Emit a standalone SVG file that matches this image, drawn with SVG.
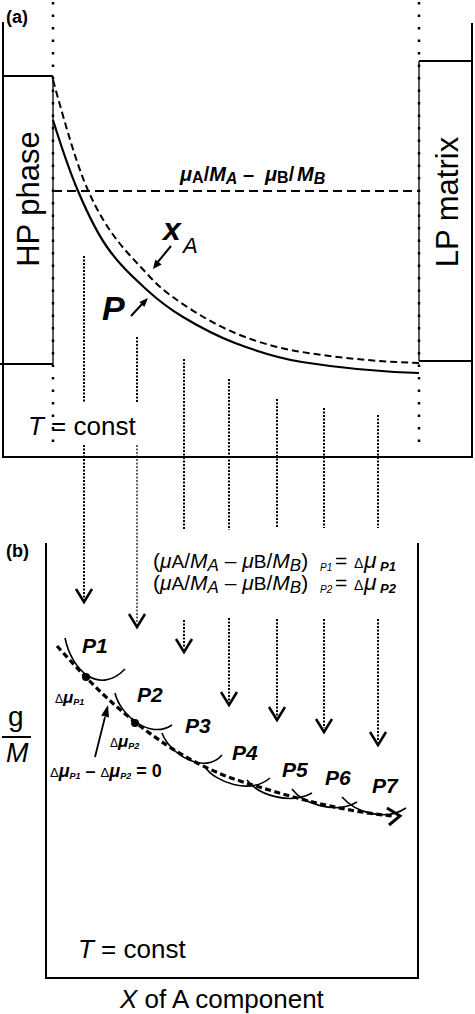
<svg xmlns="http://www.w3.org/2000/svg" width="475" height="1014" viewBox="0 0 475 1014">
<defs>
<style>
text{font-family:"Liberation Sans",Arial,sans-serif;fill:#000}
.fr{stroke:#000;stroke-width:2;fill:none}
.thin{stroke:#000;stroke-width:1.3;fill:none}
.dot{stroke:#000;stroke-width:2;stroke-dasharray:2 1.5;fill:none}
.dotthin{stroke:#000;stroke-width:1.2;stroke-dasharray:2 1.5;fill:none}
.bound{stroke:#000;stroke-width:2.5;stroke-dasharray:2.5 10;fill:none}
.chev{stroke:#000;stroke-width:2.5;fill:none}
.arc{stroke:#000;stroke-width:1.6;fill:none}
.bi{font-weight:bold;font-style:italic}
.it{font-style:italic}
</style>
</defs>
<rect width="475" height="1014" fill="#fff"/>

<g id="panel-a">
<text x="6" y="23" font-size="18" font-weight="bold">(a)</text>
<path class="fr" d="M3,22 V457 H472 V23"/>
<g id="hp-phase">
<path class="fr" d="M3,76 H53 M0,364 H53"/>
<line class="thin" x1="53" y1="76" x2="53" y2="364"/>
<text transform="translate(39,199) rotate(-90)" text-anchor="middle" font-size="31">HP phase</text>
</g>
<g id="lp-matrix">
<path class="fr" d="M419,61 H472 M419,361 H472"/>
<line class="thin" x1="419" y1="61" x2="419" y2="361"/>
<text transform="translate(458,202) rotate(-90)" text-anchor="middle" font-size="31">LP matrix</text>
</g>
<line class="bound" x1="53" y1="2" x2="53" y2="450"/>
<line class="bound" x1="419" y1="2" x2="419" y2="450"/>
<g id="threshold">
<line x1="53" y1="191" x2="419" y2="191" stroke="#000" stroke-width="2" stroke-dasharray="9 5"/>
<text y="181" font-size="20" font-weight="bold"><tspan x="180" font-style="italic">μ</tspan><tspan font-size="16" dy="2">A</tspan><tspan dy="-2">/</tspan><tspan font-style="italic">M</tspan><tspan font-style="italic" font-size="16" dy="3">A</tspan><tspan x="243" dy="-3">–</tspan><tspan x="265" font-style="italic">μ</tspan><tspan font-size="16" dy="2">B</tspan><tspan dy="-2">/</tspan><tspan x="297" font-style="italic">M</tspan><tspan font-style="italic" font-size="16" dy="3">B</tspan></text>
</g>
<g id="curves">
<path d="M53,120 C61.3,146.7 69.7,171.4 78,191 C87.7,213.7 97.3,233.2 107,247 C120.3,266.1 133.7,277.7 147,290 C159,301 171,309.8 183,317 C200.3,327.4 217.7,336.4 235,343 C257.3,351.5 279.7,358.4 302,362 C341,368.2 380,371.8 419,373" stroke="#000" stroke-width="2.2" fill="none"/>
<path d="M53,80 C64.3,120.8 75.7,161.9 87,188 C108,236.3 129,253.9 150,277 C159,286.9 168,293.7 177,300 C196.3,313.5 215.7,324.9 235,333 C257.3,342.4 279.7,348.4 302,352 C341,358.2 380,361.8 419,363" stroke="#000" stroke-width="2" stroke-dasharray="7 4" fill="none"/>
</g>
<g id="label-xA">
<text x="163" y="240" font-size="32" class="bi">x</text>
<text x="183" y="253" font-size="22" class="it">A</text>
<line x1="171" y1="246" x2="157" y2="263" stroke="#000" stroke-width="2"/>
<polygon points="153,269 161.7,264.4 155.3,259.4" fill="#000"/>
</g>
<g id="label-P">
<text x="102" y="320" font-size="34" class="bi">P</text>
<line x1="131" y1="316" x2="143" y2="303" stroke="#000" stroke-width="2"/>
<polygon points="148,298 144.3,306.9 139.3,302.1" fill="#000"/>
</g>
<text x="28" y="435" font-size="26"><tspan font-style="italic">T</tspan> = const</text>
</g>

<g id="connectors">
<path class="dot" d="M84,256 V403 M84,445 V598"/>
<path class="dot" d="M137,337 V403"/>
<path class="dotthin" d="M137,445 V623"/>
<path class="dot" d="M184,359 V530 M184,620 V648"/>
<path class="dot" d="M229,379 V530 M229,618 V701"/>
<path class="dot" d="M277,399 V528 M277,619 V716"/>
<path class="dot" d="M324,408 V528 M324,619 V728"/>
<path class="dot" d="M378,415 V528 M378,619 V741"/>
<polyline class="chev" points="76,589 84,602 92,589"/>
<polyline class="chev" points="129,614 137,627 145,614"/>
<polyline class="chev" points="176,639 184,652 192,639"/>
<polyline class="chev" points="221,692 229,705 237,692"/>
<polyline class="chev" points="269,707 277,720 285,707"/>
<polyline class="chev" points="316,719 324,732 332,719"/>
<polyline class="chev" points="370,732 378,745 386,732"/>
</g>

<g id="panel-b">
<text x="6" y="557" font-size="18" font-weight="bold">(b)</text>
<path class="fr" d="M46,543 V978 H418 V543"/>
<g id="formula">
<text y="568" font-size="21"><tspan x="153">(</tspan><tspan font-style="italic">μ</tspan><tspan font-size="19">A</tspan>/<tspan font-style="italic">M</tspan><tspan font-style="italic" font-size="17" dy="3">A</tspan><tspan dy="-3"> – </tspan><tspan font-style="italic">μ</tspan><tspan font-size="19">B</tspan>/<tspan font-style="italic">M</tspan><tspan font-style="italic" font-size="17" dy="3">B</tspan><tspan dy="-3">)</tspan><tspan x="320" font-size="10" font-style="italic" dy="3">P1</tspan><tspan x="335" dy="-3">=</tspan><tspan x="354" font-size="14">Δ</tspan><tspan x="364" font-size="23" font-style="italic">μ</tspan><tspan x="380" font-size="13" class="bi" dy="3">P1</tspan></text>
<text y="590" font-size="21"><tspan x="153">(</tspan><tspan font-style="italic">μ</tspan><tspan font-size="19">A</tspan>/<tspan font-style="italic">M</tspan><tspan font-style="italic" font-size="17" dy="3">A</tspan><tspan dy="-3"> – </tspan><tspan font-style="italic">μ</tspan><tspan font-size="19">B</tspan>/<tspan font-style="italic">M</tspan><tspan font-style="italic" font-size="17" dy="3">B</tspan><tspan dy="-3">)</tspan><tspan x="320" font-size="10" font-style="italic" dy="3">P2</tspan><tspan x="335" dy="-3">=</tspan><tspan x="354" font-size="14">Δ</tspan><tspan x="364" font-size="23" font-style="italic">μ</tspan><tspan x="380" font-size="13" class="bi" dy="3">P2</tspan></text>
</g>
<g id="axis-label">
<text x="8" y="726" font-size="28">g</text>
<line x1="2" y1="737" x2="31" y2="737" stroke="#000" stroke-width="2"/>
<text x="6" y="762" font-size="27" class="it">M</text>
</g>
<g id="envelope">
<path d="M57,646 C72,662 95,690 135,722 C165,746 200,768 240,781 C290,797 340,811 393,816" stroke="#000" stroke-width="3.2" stroke-dasharray="6 3.5" fill="none"/>
<polyline points="387,808 400,816 389,825" stroke="#000" stroke-width="3" fill="none"/>
</g>
<g id="P1"><path class="arc" d="M65,638 C72,672 100,695 125,669"/><circle cx="86" cy="677" r="4"/><text x="82" y="653" font-size="21" class="bi">P1</text></g>
<g id="P2"><path class="arc" d="M115,693 C120,715 150,740 172,725"/><circle cx="135" cy="723" r="4"/><text x="137" y="702" font-size="21" class="bi">P2</text></g>
<g id="P3"><path class="arc" d="M162,733 C170,755 205,775 222,755"/><text x="185" y="733" font-size="21" class="bi">P3</text></g>
<g id="P4"><path class="arc" d="M205,767 C215,782 250,795 270,778"/><text x="232" y="760" font-size="21" class="bi">P4</text></g>
<g id="P5"><path class="arc" d="M247,780 C258,795 290,805 312,793"/><text x="282" y="777" font-size="21" class="bi">P5</text></g>
<g id="P6"><path class="arc" d="M292,789 C302,803 335,815 357,802"/><text x="325" y="785" font-size="21" class="bi">P6</text></g>
<g id="P7"><path class="arc" d="M342,797 C355,812 385,822 406,808"/><text x="372" y="793" font-size="21" class="bi">P7</text></g>
<g id="delta-labels">
<text x="55" y="703"><tspan font-size="12">Δ</tspan><tspan font-size="17" class="bi">μ</tspan><tspan font-size="9" class="bi" dy="2">P1</tspan></text>
<text x="110" y="747"><tspan font-size="12">Δ</tspan><tspan font-size="17" class="bi">μ</tspan><tspan font-size="9" class="bi" dy="2">P2</tspan></text>
<text x="50" y="777" font-weight="bold"><tspan font-size="13" font-weight="normal">Δ</tspan><tspan font-size="18" class="bi">μ</tspan><tspan font-size="9" class="bi" dy="2">P1</tspan><tspan font-size="18" dy="-2"> – </tspan><tspan font-size="13" font-weight="normal">Δ</tspan><tspan font-size="18" class="bi">μ</tspan><tspan font-size="9" class="bi" dy="2">P2</tspan><tspan font-size="18" dy="-2"> = 0</tspan></text>
<line x1="95" y1="757" x2="105" y2="717" stroke="#000" stroke-width="1.8"/>
<polygon points="108,705 109,717.6 101.2,715.6" fill="#000"/>
</g>
<text x="78" y="958" font-size="26"><tspan font-style="italic">T</tspan> = const</text>
<text x="120" y="1008" font-size="26"><tspan font-style="italic">X</tspan> of A component</text>
</g>
</svg>
